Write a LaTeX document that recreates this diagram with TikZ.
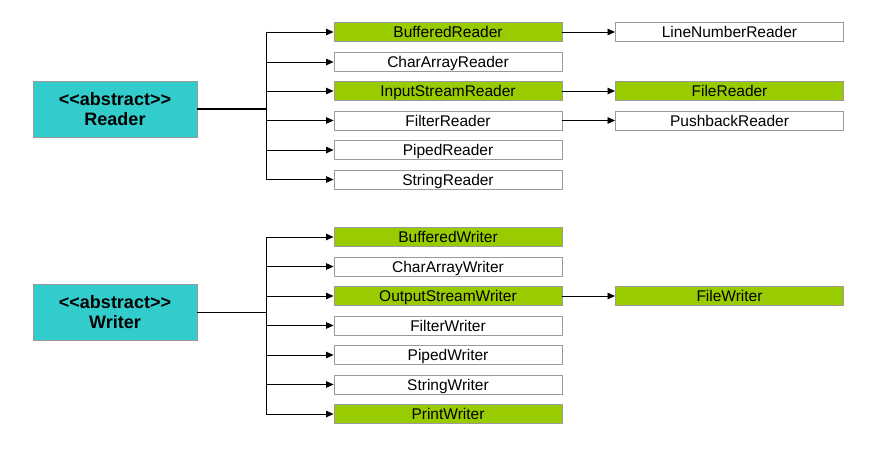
\documentclass[tikz,border=0pt]{standalone}
\usepackage{fontspec}
\setmainfont{Liberation Sans}
\usetikzlibrary{arrows.meta}
\definecolor{cyanbox}{HTML}{33CCCC}
\definecolor{greenbox}{HTML}{99CC00}
\definecolor{edgegrey}{HTML}{9A9A9A}
\tikzset{
  cls/.style={draw=edgegrey, line width=0.9pt, fill=white, minimum width=228pt, minimum height=19pt, inner sep=0pt,
    font=\fontsize{15.5}{17}\selectfont, text height=11.1pt, text depth=0pt},
  grn/.style={cls, fill=greenbox},
  abs/.style={draw=edgegrey, line width=0.9pt, fill=cyanbox, minimum width=164pt, minimum height=56pt, inner sep=0pt,
    align=center, font=\fontsize{18}{20}\selectfont\bfseries},
  arr/.style={-{Triangle[length=7.5pt,width=6.5pt]}, line width=0.8pt},
  trunk/.style={line width=0.8pt},
}
\begin{document}
\begin{tikzpicture}[x=1pt,y=-1pt]
\useasboundingbox (0,0) rectangle (874,465);
% Reader
\node[abs] (reader) at (115,109) {{<}{<}abstract{>}{>}\\Reader};
\node[grn] (br) at (448,32) {BufferedReader};
\node[cls] (car) at (448,62) {CharArrayReader};
\node[grn] (isr) at (448,91) {InputStreamReader};
\node[cls] (fr) at (448,120.5) {FilterReader};
\node[cls] (pr) at (448,150) {PipedReader};
\node[cls] (sr) at (448,179.5) {StringReader};
\node[cls] (lnr) at (729.5,32) {LineNumberReader};
\node[grn] (filer) at (729.5,91) {FileReader};
\node[cls] (pbr) at (729.5,120.5) {PushbackReader};
\coordinate (rj) at (266,109);
\draw[line width=1.5pt] (reader.east) -- (rj);
\draw[trunk] (266,32) -- (266,179.5);
\foreach \n in {br,car,isr,fr,pr,sr}{
  \draw[arr] (\n.west -| rj) -- (\n.west);
}
\draw[arr] (br) -- (lnr);
\draw[arr] (isr) -- (filer);
\draw[arr] (fr) -- (pbr);
% Writer
\node[abs] (writer) at (115,312.5) {{<}{<}abstract{>}{>}\\Writer};
\node[grn] (bw) at (448,237) {BufferedWriter};
\node[cls] (caw) at (448,266.5) {CharArrayWriter};
\node[grn] (osw) at (448,296) {OutputStreamWriter};
\node[cls] (fw) at (448,325.5) {FilterWriter};
\node[cls] (pw) at (448,355) {PipedWriter};
\node[cls] (sw) at (448,384.5) {StringWriter};
\node[grn] (prw) at (448,414) {PrintWriter};
\node[grn] (filew) at (729.5,296) {FileWriter};
\coordinate (wj) at (266,312.5);
\draw[line width=1.5pt] (writer.east) -- (wj);
\draw[trunk] (266,237) -- (266,414);
\foreach \n in {bw,caw,osw,fw,pw,sw,prw}{
  \draw[arr] (\n.west -| wj) -- (\n.west);
}
\draw[arr] (osw) -- (filew);
\end{tikzpicture}
\end{document}
